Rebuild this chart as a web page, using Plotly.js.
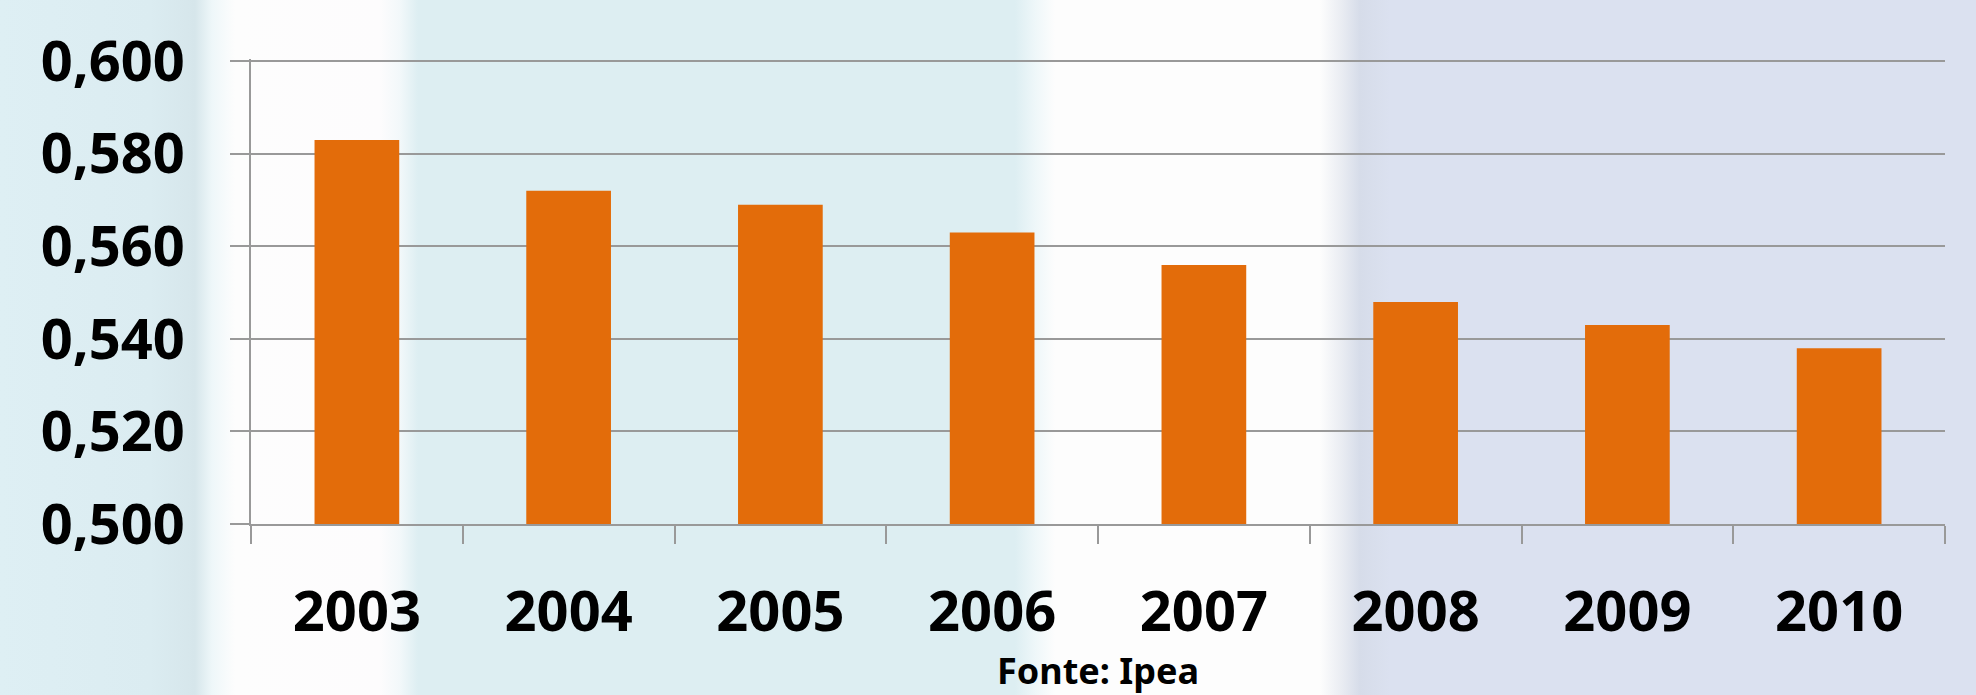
<!DOCTYPE html>
<html>
<head>
<meta charset="utf-8">
<script src="https://cdn.plot.ly/plotly-3.0.1.min.js"></script>
<style>
  html, body { margin: 0; padding: 0; width: 1976px; height: 695px; overflow: hidden; }
  body {
    background: linear-gradient(to right,
      #deeff4 0px, #dbecf1 150px, #d6e6eb 195px, #eef7f9 212px, #fdfdfd 235px,
      #fdfcfd 380px, #f2f8fa 400px, #ddeef2 418px,
      #ddeef2 1015px, #eef7f9 1035px, #fdfdfd 1055px,
      #fdfdfd 1320px, #e9ecf2 1342px, #d6dce9 1360px, #dbe1f0 1390px, #dbe1f0 1976px);
  }
  #chart { width: 1976px; height: 695px; }
</style>
</head>
<body>
<div id="chart"></div>
<script>
const years = ['2003', '2004', '2005', '2006', '2007', '2008', '2009', '2010'];
const gini = [0.583, 0.572, 0.569, 0.563, 0.556, 0.548, 0.543, 0.538];
const yTicks = [0.500, 0.520, 0.540, 0.560, 0.580, 0.600];
const sourceText = 'Fonte: Ipea';

const tickFont = { family: 'Noto Sans, DejaVu Sans, sans-serif', size: 56, color: '#000000', weight: 'bold' };

const trace = {
  type: 'bar',
  x: years,
  y: gini,
  marker: { color: '#e36c0a', line: { width: 0 } },
  width: 0.4,
  hoverinfo: 'skip'
};

const layout = {
  width: 1976,
  height: 695,
  margin: { l: 251, r: 31, t: 59, b: 171, pad: 0 },
  paper_bgcolor: 'rgba(0,0,0,0)',
  plot_bgcolor: 'rgba(0,0,0,0)',
  separators: ',.',
  showlegend: false,
  bargap: 0.6,
  xaxis: {
    type: 'category',
    tickson: 'boundaries',
    ticks: 'outside',
    ticklen: 18,
    tickwidth: 2,
    tickcolor: '#999999',
    showline: true,
    linecolor: '#999999',
    linewidth: 2,
    showgrid: false,
    tickfont: tickFont,
    ticklabelstandoff: 38
  },
  yaxis: {
    range: [0.5, 0.6005],
    tickvals: yTicks,
    tickformat: '.3f',
    ticks: 'outside',
    ticklen: 19,
    tickwidth: 2,
    tickcolor: '#999999',
    showline: true,
    linecolor: '#999999',
    linewidth: 2,
    showgrid: true,
    gridcolor: '#999999',
    gridwidth: 2,
    zeroline: false,
    tickfont: tickFont,
    ticklabelstandoff: 34
  },
  annotations: [{
    text: '<b>' + sourceText + '</b>',
    xref: 'paper', yref: 'paper',
    x: 0.5, y: -0.314,
    xanchor: 'center', yanchor: 'middle',
    showarrow: false,
    font: { family: 'Noto Sans, DejaVu Sans, sans-serif', size: 36, color: '#000000' }
  }]
};

Plotly.newPlot('chart', [trace], layout, { staticPlot: true, displayModeBar: false });
</script>
</body>
</html>
